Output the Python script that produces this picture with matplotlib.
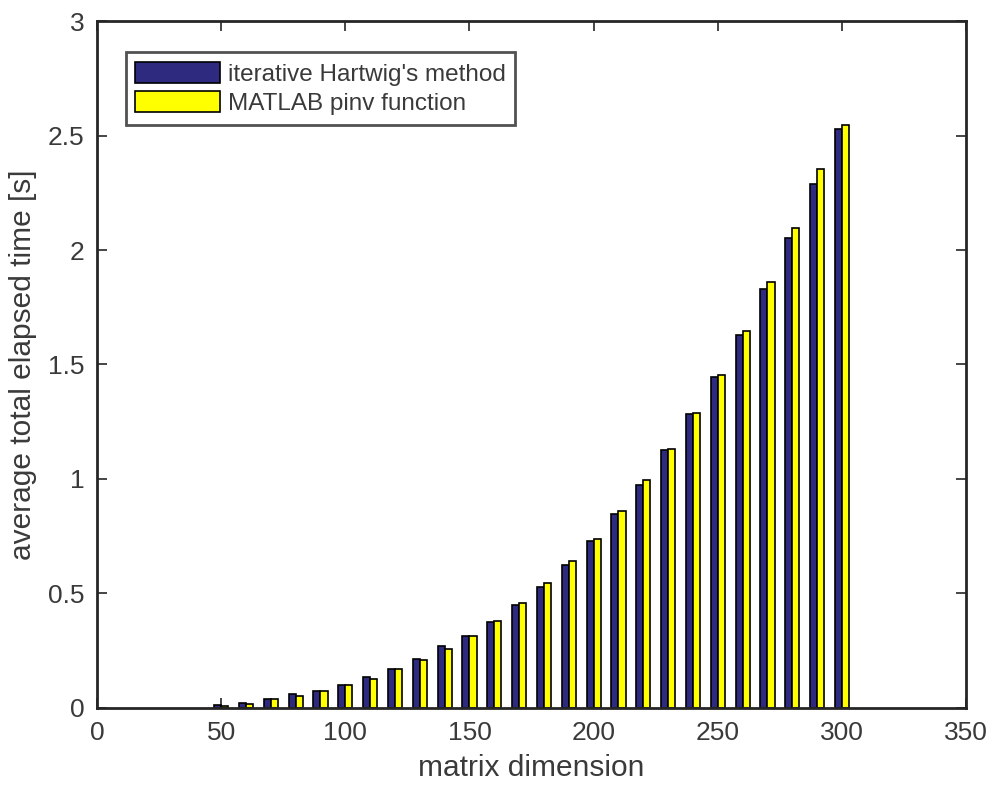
import matplotlib
matplotlib.use("Agg")
import matplotlib.pyplot as plt
import numpy as np

plt.rcParams["font.family"] = ["Liberation Sans", "DejaVu Sans"]

# matrix sizes tested and average elapsed times [s]
dims = [50, 60, 70, 80, 90, 100, 110, 120, 130, 140, 150, 160, 170,
        180, 190, 200, 210, 220, 230, 240, 250, 260, 270, 280, 290, 300]
hartwig = [0.010, 0.020, 0.038, 0.057, 0.073, 0.099, 0.134, 0.168, 0.214,
           0.267, 0.313, 0.372, 0.450, 0.526, 0.624, 0.729, 0.844, 0.974,
           1.124, 1.281, 1.447, 1.630, 1.831, 2.052, 2.287, 2.527]
pinv = [0.006, 0.016, 0.036, 0.050, 0.073, 0.099, 0.125, 0.168, 0.208,
        0.257, 0.313, 0.379, 0.458, 0.545, 0.641, 0.737, 0.860, 0.993,
        1.131, 1.289, 1.455, 1.648, 1.858, 2.095, 2.355, 2.548]

labels = ["iterative Hartwig's method", "MATLAB pinv function"]
xticks = [0, 50, 100, 150, 200, 250, 300, 350]
yticks = [0, 0.5, 1, 1.5, 2, 2.5, 3]

BLUE = "#2e2a80"
YELLOW = "#ffff00"
TXT = "#3a3a3a"

fig = plt.figure(figsize=(9.96, 7.87), dpi=100)
ax = fig.add_axes([0.0974, 0.101, 0.8726, 0.872])

x = np.array(dims, dtype=float)
w = 2.86
ax.bar(x - w / 2, hartwig, width=w, color=BLUE, edgecolor="black",
       linewidth=1.2, label=labels[0], zorder=2)
ax.bar(x + w / 2, pinv, width=w, color=YELLOW, edgecolor="black",
       linewidth=1.2, label=labels[1], zorder=2)

ax.set_xlim(0, 350)
ax.set_ylim(0, 3)
ax.set_xticks(xticks)
ax.set_xticklabels([str(t) for t in xticks])
ax.set_yticks(yticks)
ax.set_yticklabels(["0", "0.5", "1", "1.5", "2", "2.5", "3"])

ax.tick_params(direction="in", length=7.5, width=1.2, top=True, right=True,
               labelsize=19, colors="#262626", labelcolor=TXT)
ax.tick_params(axis="x", pad=10)
ax.tick_params(axis="y", pad=9)
for s in ax.spines.values():
    s.set_linewidth(2.0)
    s.set_color("#262626")

ax.set_xlabel("matrix dimension", fontsize=21.5, color=TXT, labelpad=6)
ax.set_ylabel("average total elapsed time [s]", fontsize=21.5, color=TXT,
              labelpad=8)

leg = ax.legend(loc="upper left", bbox_to_anchor=(0.033, 0.955),
                fontsize=17.5, frameon=True, fancybox=False, handlelength=3.5,
                handleheight=0.95, handletextpad=0.3, borderpad=0.4,
                labelspacing=0.22, borderaxespad=0)
leg.get_frame().set_edgecolor("#262626")
leg.get_frame().set_linewidth(2.0)
for t in leg.get_texts():
    t.set_color(TXT)

fig.savefig("out.png", dpi=100, facecolor="white")
plt.close(fig)
